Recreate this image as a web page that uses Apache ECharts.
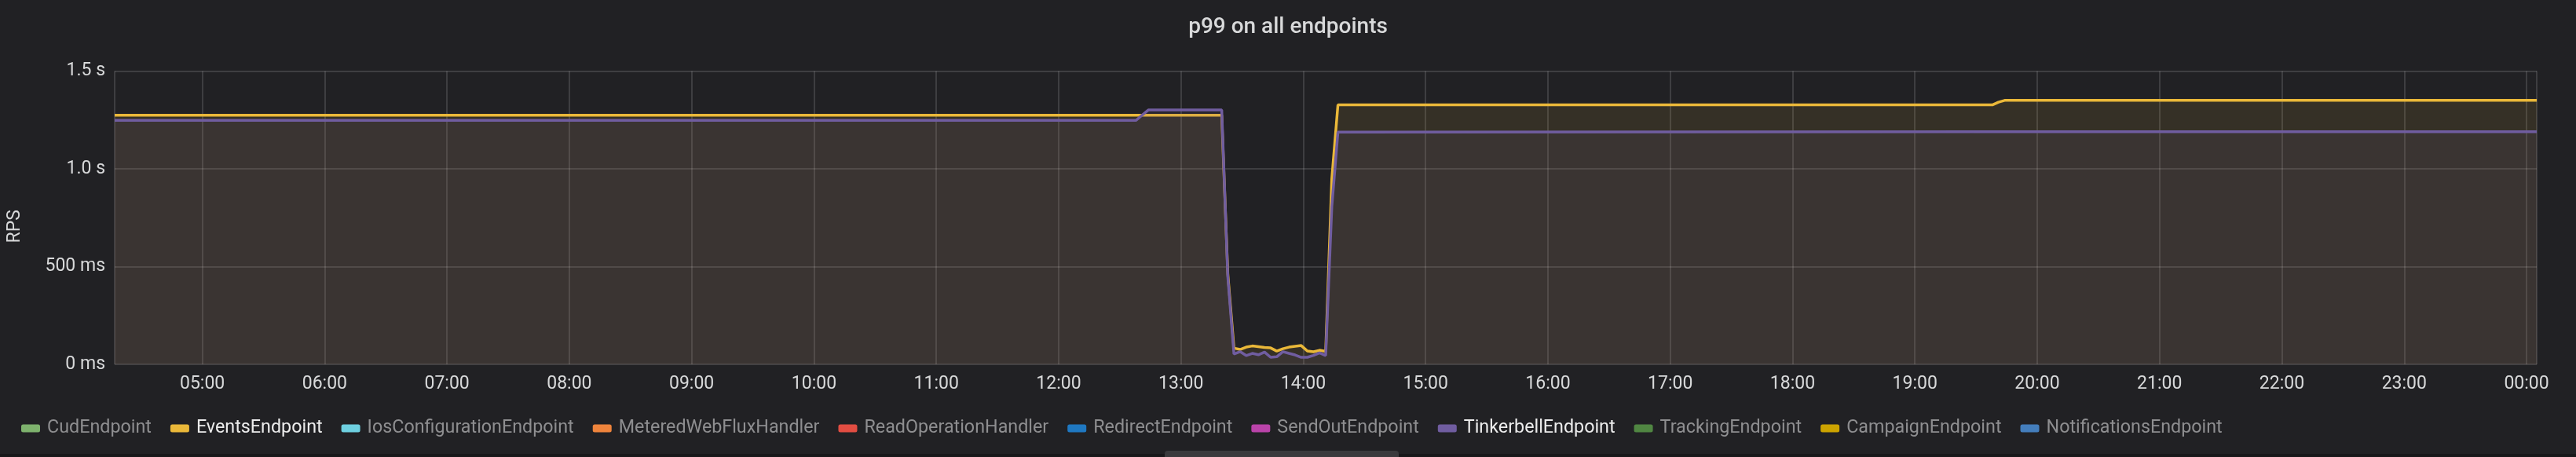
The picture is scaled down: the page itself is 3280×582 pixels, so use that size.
<!DOCTYPE html>
<html>
<head>
<meta charset="utf-8">
<script src="https://cdn.jsdelivr.net/npm/echarts@6/dist/echarts.min.js"></script>
<style>
html,body{margin:0;padding:0;background:#212124;}
#chart{width:3280px;height:582px;}
</style>
</head>
<body>
<div id="chart"></div>
<script>
// ---- data ----
const seriesNames = ['CudEndpoint','EventsEndpoint','IosConfigurationEndpoint','MeteredWebFluxHandler','ReadOperationHandler','RedirectEndpoint','SendOutEndpoint','TinkerbellEndpoint','TrackingEndpoint','CampaignEndpoint','NotificationsEndpoint'];
const seriesColors = ['#7EB26D','#EAB839','#6ED0E0','#EF843C','#E24D42','#1F78C1','#BA43A9','#705DA0','#508642','#CCA300','#447EBC'];
const activeSeries = ['EventsEndpoint','TinkerbellEndpoint'];

const times = [
  '2023-05-01T04:17:00','2023-05-01T12:38:00','2023-05-01T12:41:00','2023-05-01T12:44:00',
  '2023-05-01T13:20:00','2023-05-01T13:23:00','2023-05-01T13:26:00','2023-05-01T13:29:00',
  '2023-05-01T13:32:00','2023-05-01T13:35:00','2023-05-01T13:38:00','2023-05-01T13:41:00',
  '2023-05-01T13:44:00','2023-05-01T13:47:00','2023-05-01T13:50:00','2023-05-01T13:53:00',
  '2023-05-01T13:56:00','2023-05-01T13:59:00','2023-05-01T14:02:00','2023-05-01T14:05:00',
  '2023-05-01T14:08:00','2023-05-01T14:11:00','2023-05-01T14:14:00','2023-05-01T14:17:00',
  '2023-05-01T19:38:00','2023-05-01T19:41:00','2023-05-01T19:44:00','2023-05-02T00:05:00'
];
// seconds
const eventsValues = [
  1.274,1.274,1.274,1.274,
  1.274,0.46,0.083,0.076,
  0.088,0.094,0.090,0.086,
  0.084,0.068,0.080,0.088,
  0.092,0.096,0.068,0.064,
  0.072,0.066,0.948,1.327,
  1.327,1.341,1.350,1.350
];
const tinkerbellValues = [
  1.248,1.248,1.275,1.301,
  1.301,0.446,0.053,0.065,
  0.045,0.056,0.049,0.063,
  0.036,0.039,0.065,0.056,
  0.048,0.036,0.036,0.046,
  0.059,0.045,0.807,1.188,
  1.190,1.190,1.190,1.190
];
const seriesValues = { EventsEndpoint: eventsValues, TinkerbellEndpoint: tinkerbellValues };
const xMin = '2023-05-01T04:17:00';
const xMax = '2023-05-02T00:05:00';
const yTicks = [0, 0.5, 1.0, 1.5];

// ---- chart ----
const chart = echarts.init(document.getElementById('chart'), null, {renderer:'canvas'});
const pad = n => (n < 10 ? '0' : '') + n;
const toMs = s => new Date(s).getTime();

const series = seriesNames.map((name, i) => {
  const vals = seriesValues[name];
  const data = vals ? times.map((t, k) => [toMs(t), vals[k]]) : [];
  return {
    name: name,
    type: 'line',
    data: data,
    color: seriesColors[i],
    showSymbol: false,
    symbol: 'none',
    lineStyle: { width: 3.5, color: seriesColors[i] },
    areaStyle: { color: seriesColors[i], opacity: 0.1 },
    animation: false,
    z: 2 + i
  };
});

const option = {
  backgroundColor: '#212124',
  animation: false,
  title: {
    text: 'p99 on all endpoints',
    left: 'center',
    top: 16,
    textStyle: { color: '#d8d9da', fontSize: 28, fontWeight: 500, fontFamily: 'Roboto' }
  },
  legend: {
    left: 22,
    top: 529,
    itemWidth: 24,
    itemHeight: 10,
    itemGap: 24,
    icon: 'roundRect',
    selectedMode: false,
    data: seriesNames.map(n => ({
      name: n,
      textStyle: { color: activeSeries.includes(n) ? '#ececec' : '#8e8e90' }
    })),
    textStyle: { fontSize: 23.3, fontFamily: 'Roboto', padding: [0, 0, 0, 4] }
  },
  grid: { left: 133, right: 50, top: 90.5, bottom: 118 },
  xAxis: {
    type: 'time',
    min: toMs(xMin),
    max: toMs(xMax),
    minInterval: 3600 * 1000,
    maxInterval: 3600 * 1000,
    axisLine: { show: false },
    axisTick: { show: false },
    axisLabel: {
      color: '#d8d9da', fontSize: 23, fontFamily: 'Roboto', margin: 14,
      formatter: v => { const d = new Date(v); return pad(d.getHours()) + ':' + pad(d.getMinutes()); }
    },
    splitLine: { show: true, lineStyle: { color: 'rgba(255,255,255,0.18)', width: 1.5 } }
  },
  yAxis: {
    type: 'value',
    min: yTicks[0],
    max: yTicks[yTicks.length - 1],
    interval: yTicks[1] - yTicks[0],
    name: 'RPS',
    nameLocation: 'middle',
    nameGap: 115,
    nameTextStyle: { color: '#d8d9da', fontSize: 23, fontFamily: 'Roboto', padding: [0, 22, 0, 0] },
    axisLine: { show: false },
    axisTick: { show: false },
    axisLabel: {
      color: '#d8d9da', fontSize: 23, fontFamily: 'Roboto', margin: 12,
      formatter: v => v === 0 ? '0 ms' : (v < 1 ? Math.round(v * 1000) + ' ms' : v.toFixed(1) + ' s')
    },
    splitLine: { show: true, lineStyle: { color: 'rgba(255,255,255,0.18)', width: 1.5 } }
  },
  graphic: [
    { type: 'rect', shape: { x: 0, y: 578, width: 3280, height: 4 }, style: { fill: '#18181a' }, silent: true },
    { type: 'rect', shape: { x: 1483, y: 574, width: 298, height: 12, r: 4 }, style: { fill: '#3a3a3d' }, silent: true }
  ],
  series: series
};
chart.setOption(option);
</script>
</body>
</html>
